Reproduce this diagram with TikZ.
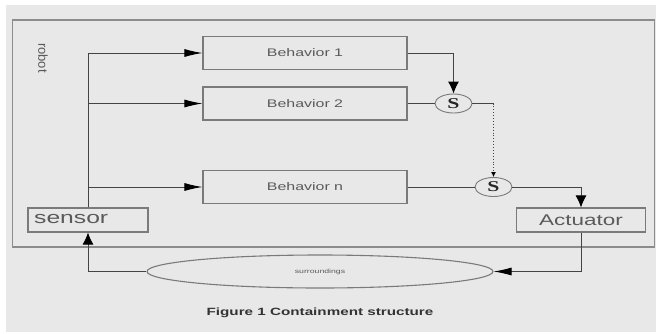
\documentclass[tikz,border=0pt]{standalone}
\usepackage{fontspec}
\usetikzlibrary{arrows.meta,shapes.geometric}
\newfontfamily\widesans[FakeStretch=1.45]{Liberation Sans}
\newfontfamily\wideserif[FakeStretch=1.45]{Liberation Serif}
\definecolor{bg}{HTML}{E8E8E8}
\definecolor{frame}{HTML}{8C8C8C}
\definecolor{boxline}{HTML}{7A7A7A}
\definecolor{wire}{HTML}{444444}
\definecolor{txt}{HTML}{5A5A5A}
\tikzset{
  behbox/.style={draw=boxline, line width=1.1pt, minimum width=204pt, minimum height=33pt, inner sep=0pt, font=\widesans\fontsize{11}{11}\selectfont, text=txt},
  iobox/.style={draw=boxline, line width=1.1pt, minimum width=#1, minimum height=24pt, inner sep=0pt, font=\widesans\fontsize{16}{16}\selectfont, text=txt},
  sumnode/.style={draw=boxline, line width=0.9pt, ellipse, minimum width=37pt, minimum height=19pt, inner sep=0pt, font=\wideserif\bfseries\fontsize{15}{15}\selectfont, text=black!85},
  wireline/.style={draw=wire, line width=0.9pt},
  harrow/.style={wireline, -{Latex[length=18pt,width=8pt,color=black]}},
  varrow/.style={wireline, -{Latex[length=12pt,width=11pt,color=black]}},
  dotarrow/.style={wireline, dotted, -{Latex[length=5pt,width=5pt,color=black]}},
}
\begin{document}
\begin{tikzpicture}[x=1pt,y=-1pt]
\useasboundingbox (0,0) rectangle (657,333);
\fill[white] (0,0) rectangle (657,333);
\fill[bg] (6,5) rectangle (656,332);
% robot frame
\node[draw=frame, line width=1.5pt, minimum width=642pt, minimum height=227pt, inner sep=0pt] (robot) at (333.5,133.5) {};
\node[rotate=-90, font=\fontspec{Liberation Sans}\fontsize{13}{13}\selectfont, text=txt] (robotlbl) at (43,58) {robot};
% behaviors
\node[behbox] (b1) at (305,53) {Behavior 1};
\node[behbox] (b2) at (305,103.5) {Behavior 2};
\node[behbox] (bn) at (305,187) {Behavior n};
% sensor & actuator
\node[iobox=120pt] (sensor) at (88,220) {};
\node[anchor=west, font=\widesans\fontsize{17}{17}\selectfont, text=txt, inner sep=0pt] (sensortxt) at (34,219) {sensor};
\node[iobox=129pt, font=\widesans\fontsize{15.5}{15.5}\selectfont] (act) at (581,220) {Actuator};
% suppression nodes
\node[sumnode] (s1) at (453.5,103.5) {S};
\node[sumnode] (s2) at (493.5,187) {S};
% surroundings
\node[draw=boxline, line width=1.1pt, ellipse, minimum width=346pt, minimum height=33pt, inner sep=0pt, font=\widesans\fontsize{6}{6}\selectfont, text=txt] (surr) at (320,271.5) {surroundings};
% caption
\node[font=\widesans\bfseries\fontsize{10.5}{10.5}\selectfont, text=black!80] (cap) at (320,313) {Figure 1 Containment structure};
% connectors
\coordinate (j2) at (sensor.north |- b2.west);
\coordinate (jn) at (sensor.north |- bn.west);
\draw[harrow] (sensor.north) |- (b1.west);
\draw[harrow] (j2) -- (b2.west);
\draw[harrow] (jn) -- (bn.west);
\draw[varrow] (b1.east) -| (s1.north);
\draw[wireline] (b2.east) -- (s1.west);
\coordinate (c1) at (s1.east -| s2.north);
\draw[wireline] (s1.east) -- (c1);
\draw[dotarrow] (c1) -- (s2.north);
\draw[wireline] (bn.east) -- (s2.west);
\draw[varrow] (s2.east) -| (act.north);
\draw[harrow] (act.south) |- (surr.east);
\draw[varrow] (surr.west) -| (sensor.south);
\end{tikzpicture}
\end{document}
